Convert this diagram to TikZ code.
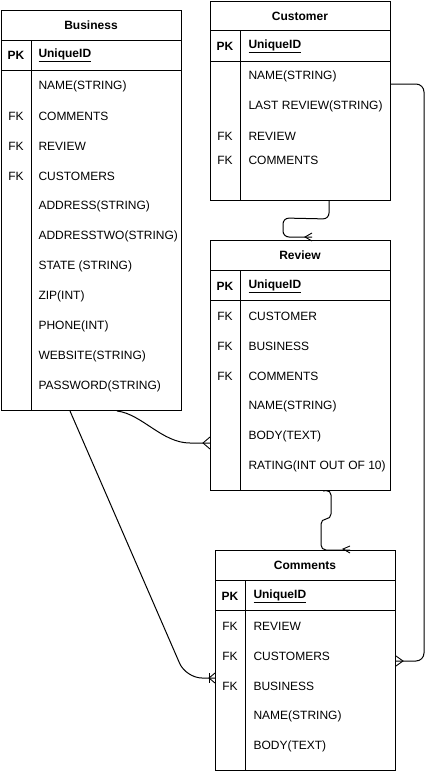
\documentclass[tikz,border=0pt]{standalone}
\usepackage{fontspec}
\setmainfont{Liberation Sans}
\usetikzlibrary{calc}
\begin{document}
\begin{tikzpicture}[x=1pt,y=-1pt,line width=1pt,
  font=\fontsize{12}{14}\selectfont,
  tbl/.style={draw,rectangle,inner sep=0pt,anchor=north west},
  hdr/.style={font=\fontsize{12}{14}\selectfont\bfseries,inner sep=0pt},
  key/.style={inner sep=0pt},
  pkk/.style={inner sep=0pt,font=\fontsize{12}{14}\selectfont\bfseries},
  fld/.style={anchor=west,inner sep=0pt},
  pkf/.style={anchor=west,inner sep=0pt,font=\fontsize{12}{14}\selectfont\bfseries},
  conn/.style={line width=1pt},
  foot/.style={line width=0.9pt}]
\useasboundingbox (0,0) rectangle (434,771);

% ---------- Business ----------
\node[tbl,minimum width=180pt,minimum height=400pt] (bus) at (1,10) {};
\draw (1,40) -- (181,40) (1,70) -- (181,70) (31,40) -- (31,410);
\node[hdr] (busH) at (91,25) {Business};
\node[pkk] (busPK) at (16,55) {PK};
\node[pkf] (busID) at (38,55) {\underline{UniqueID}};
\node[fld] (bus1) at (38,86) {NAME(STRING)};
\node[key] (busK2) at (16,116) {FK};
\node[fld] (bus2) at (38,116) {COMMENTS};
\node[key] (busK3) at (16,146) {FK};
\node[fld] (bus3) at (38,146) {REVIEW};
\node[key] (busK4) at (16,176) {FK};
\node[fld] (bus4) at (38,176) {CUSTOMERS};
\node[fld] (bus5) at (38,206) {ADDRESS(STRING)};
\node[fld] (bus6) at (38,236) {ADDRESSTWO(STRING)};
\node[fld] (bus7) at (38,266) {STATE (STRING)};
\node[fld] (bus8) at (38,296) {ZIP(INT)};
\node[fld] (bus9) at (38,326) {PHONE(INT)};
\node[fld] (bus10) at (38,356) {WEBSITE(STRING)};
\node[fld] (bus11) at (38,386) {PASSWORD(STRING)};

% ---------- Customer ----------
\node[tbl,minimum width=180pt,minimum height=199pt] (cus) at (210,1) {};
\draw (210,30) -- (390,30) (210,61) -- (390,61) (240,30) -- (240,200);
\node[hdr] (cusH) at (300,16) {Customer};
\node[pkk] (cusPK) at (225,46) {PK};
\node[pkf] (cusID) at (248,46) {\underline{UniqueID}};
\node[fld] (cus1) at (248,76) {NAME(STRING)};
\node[fld] (cus2) at (248,106) {LAST REVIEW(STRING)};
\node[key] (cusK3) at (225,136) {FK};
\node[fld] (cus3) at (248,136) {REVIEW};
\node[key] (cusK4) at (225,160) {FK};
\node[fld] (cus4) at (248,160) {COMMENTS};

% ---------- Review ----------
\node[tbl,minimum width=180pt,minimum height=250pt] (rev) at (210,240) {};
\draw (210,270) -- (390,270) (210,300) -- (390,300) (240,270) -- (240,490);
\node[hdr] (revH) at (300,255) {Review};
\node[pkk] (revPK) at (225,286) {PK};
\node[pkf] (revID) at (248,286) {\underline{UniqueID}};
\node[key] (revK1) at (225,316) {FK};
\node[fld] (rev1) at (248,316) {CUSTOMER};
\node[key] (revK2) at (225,346) {FK};
\node[fld] (rev2) at (248,346) {BUSINESS};
\node[key] (revK3) at (225,376) {FK};
\node[fld] (rev3) at (248,376) {COMMENTS};
\node[fld] (rev4) at (248,406) {NAME(STRING)};
\node[fld] (rev5) at (248,436) {BODY(TEXT)};
\node[fld] (rev6) at (248,466) {RATING(INT OUT OF 10)};

% ---------- Comments ----------
\node[tbl,minimum width=180pt,minimum height=220pt] (com) at (215,550) {};
\draw (215,580) -- (395,580) (215,610) -- (395,610) (245,580) -- (245,770);
\node[hdr] (comH) at (305,565) {Comments};
\node[pkk] (comPK) at (230,596) {PK};
\node[pkf] (comID) at (253,596) {\underline{UniqueID}};
\node[key] (comK1) at (230,626) {FK};
\node[fld] (com1) at (253,626) {REVIEW};
\node[key] (comK2) at (230,656) {FK};
\node[fld] (com2) at (253,656) {CUSTOMERS};
\node[key] (comK3) at (230,686) {FK};
\node[fld] (com3) at (253,686) {BUSINESS};
\node[fld] (com4) at (253,716) {NAME(STRING)};
\node[fld] (com5) at (253,746) {BODY(TEXT)};

% ---------- connector points ----------
\coordinate (c1s) at ($(cus.south west)+(119,0)$);
\coordinate (c1e) at (312,237);
\coordinate (c2s) at ($(bus.south west)+(116,0)$);
\coordinate (c2e) at (rev.west |- 0,443);
\coordinate (c3s) at ($(bus.south west)+(69,0)$);
\coordinate (c3e) at (com.west |- 0,678);
\coordinate (c4s) at (cus.east |- 0,84);
\coordinate (c4e) at (com.east |- 0,661);
\coordinate (c5s) at ($(rev.south west)+(113,0)$);
\coordinate (c5e) at (350,550);

% Customer -> Review
\draw[conn,rounded corners=6] (c1s) -- ++(0,18) -- (283,218) -- (283,237) -- (c1e);
\draw[foot] ($(c1e)+(0,-4)$) -- ($(c1e)+(-7,0)$) -- ($(c1e)+(0,4)$);

% Business -> Review
\draw[conn] (c2s) .. controls (142,414) and (162,443) .. (190,443) -- (c2e);
\draw[foot] ($(c2e)+(0,-6)$) -- ($(c2e)+(-7,0)$) -- ($(c2e)+(0,6)$);

% Business -> Comments
\draw[conn,rounded corners=16] (c3s) -- (186,678) -- (c3e);
\draw[foot] ($(c3e)+(0,-5)$) -- ($(c3e)+(-6,0)$) -- ($(c3e)+(0,5)$);
\draw[foot] ($(c3e)+(-6,-5)$) -- ($(c3e)+(-6,5)$);

% Customer -> Comments
\draw[conn,rounded corners=8] (c4s) -- (424,84) -- (424,661) -- (c4e);
\draw[foot] ($(c4e)+(0,-5)$) -- ($(c4e)+(7,0)$) -- ($(c4e)+(0,5)$);

% Review -> Comments
\draw[conn,rounded corners=5] (c5s) -- (331,490) -- (331,519) -- (321,519) -- (321,550) -- (c5e);
\draw[foot] ($(c5e)+(0,-4)$) -- ($(c5e)+(-7,-1)$) -- ($(c5e)+(0,3)$);
\end{tikzpicture}
\end{document}
